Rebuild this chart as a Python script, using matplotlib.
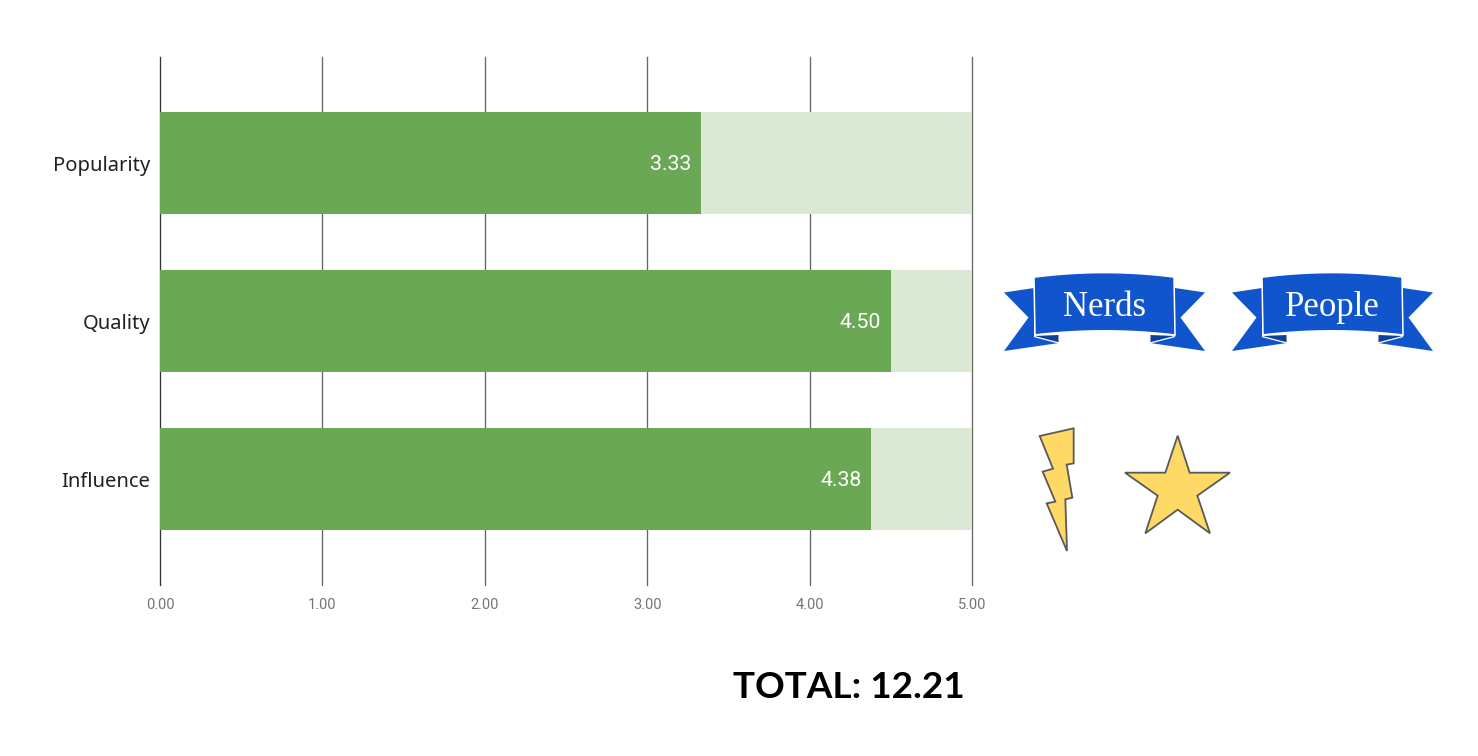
import matplotlib
matplotlib.use("Agg")
import matplotlib.pyplot as plt
from matplotlib.patches import Polygon

# ---- data ----
categories = ["Popularity", "Quality", "Influence"]
scores = [3.33, 4.50, 4.38]
max_score = 5.0
x_ticks = [0, 1, 2, 3, 4, 5]
total_label = "TOTAL: 12.21"
banner_labels = ["Nerds", "People"]

# ---- styles ----
GREEN = "#6aa855"
PALE = "#dae8d4"
BLUE = "#1155cc"
DARK_BLUE = "#0e3f9a"
YELLOW = "#ffd966"
OUTLINE = "#595959"

W, H = 1478, 756
fig = plt.figure(figsize=(W / 100, H / 100), dpi=100, facecolor="white")

# chart axes: pixel box x 160..972, y 57..585
ax = fig.add_axes([160.1 / W, 1 - 585.1 / H, (972 - 160.1) / W, (585.1 - 57.1) / H])
ax.set_xlim(0, max_score)
ax.set_ylim(2.671, -0.671)
for s in ax.spines.values():
    s.set_visible(False)
ax.set_facecolor("none")

for t in x_ticks:
    ax.axvline(t, color="#333333" if t == 0 else "#666666", lw=0.95, zorder=1, clip_on=False)

ypos = list(range(len(categories)))
ax.barh(ypos, [max_score] * len(scores), height=102 / 158, color=PALE, zorder=2)
ax.barh(ypos, scores, height=102 / 158, color=GREEN, zorder=3)
for y, v in zip(ypos, scores):
    ax.annotate(f"{v:.2f}", (v, y), xytext=(-7, -0.8), textcoords="offset points",
                ha="right", va="center", color="white", fontsize=15.3, family="Roboto", zorder=4)

ax.set_xticks(x_ticks, [f"{t:.2f}" for t in x_ticks], family="Roboto", fontsize=10.5, color="#757575")
ax.set_yticks(ypos, categories, family="Noto Sans", fontsize=14.5, color="#212121")
ax.tick_params(axis="x", length=0, pad=9.5)
ax.tick_params(axis="y", length=0, pad=7)

# overlay in pixel coordinates for the decorations
ov = fig.add_axes([0, 0, 1, 1])
ov.set_xlim(0, W)
ov.set_ylim(H, 0)
ov.axis("off")
ov.patch.set_alpha(0)


def banner(dx, label):
    cx = 1104.5 + dx
    left_tail = [(1034, 288), (1004, 292.5), (1028.5, 317.5), (1004, 351), (1059, 343), (1034, 336)]
    fold = [(1034, 336), (1058.5, 335), (1058.5, 343)]
    for pts in (left_tail, fold):
        col = DARK_BLUE if pts is fold else BLUE
        ov.add_patch(Polygon([(x + dx, y) for x, y in pts], fc=col, ec="none"))
        ov.add_patch(Polygon([(2 * cx - (x + dx), y) for x, y in pts], fc=col, ec="none"))
    # white crease lines between the tail and the fold
    for sx in (lambda x: x + dx, lambda x: 2 * cx - (x + dx)):
        ov.plot([sx(1034), sx(1059)], [336.5, 343], color="white", lw=0.9, solid_capstyle="butt")
    # central panel with arched top and bottom edges
    top = [(1034 + i * 7, 277.2 - 4.6 * (1 - ((i * 7 - 70.5) / 70.5) ** 2)) for i in range(21)]
    bot = [(1175 - i * 7, 335 - 4.2 * (1 - ((i * 7 - 70.5) / 70.5) ** 2)) for i in range(21)]
    ov.add_patch(Polygon([(x + dx, y) for x, y in top + bot], fc=BLUE, ec="white", lw=1.1, joinstyle="miter"))
    ov.text(cx, 308, label, ha="center", va="center", color="white", fontsize=25, family="Liberation Serif")


for dx, lab in zip((0, 228), banner_labels):
    banner(dx, lab)

bolt = [(59, 48), (161, 25), (161, 130), (140, 134), (157, 233), (136, 238), (141, 393),
        (80, 250), (106, 245), (68, 155), (99, 146)]
star = [(473, 47), (509, 158), (630, 158), (532, 227), (570, 340), (473, 269), (376, 340),
        (413, 227), (315, 158), (436, 158)]
for shape in (bolt, star):
    ov.add_patch(Polygon([(1020 + x / 3, 420 + y / 3) for x, y in shape], fc=YELLOW, ec=OUTLINE, lw=1.3))

ov.text(733, 688, total_label, ha="left", va="center", color="black", fontsize=26.6, family="Lato", weight="bold")

fig.savefig("out.png", dpi=100, facecolor="white")
